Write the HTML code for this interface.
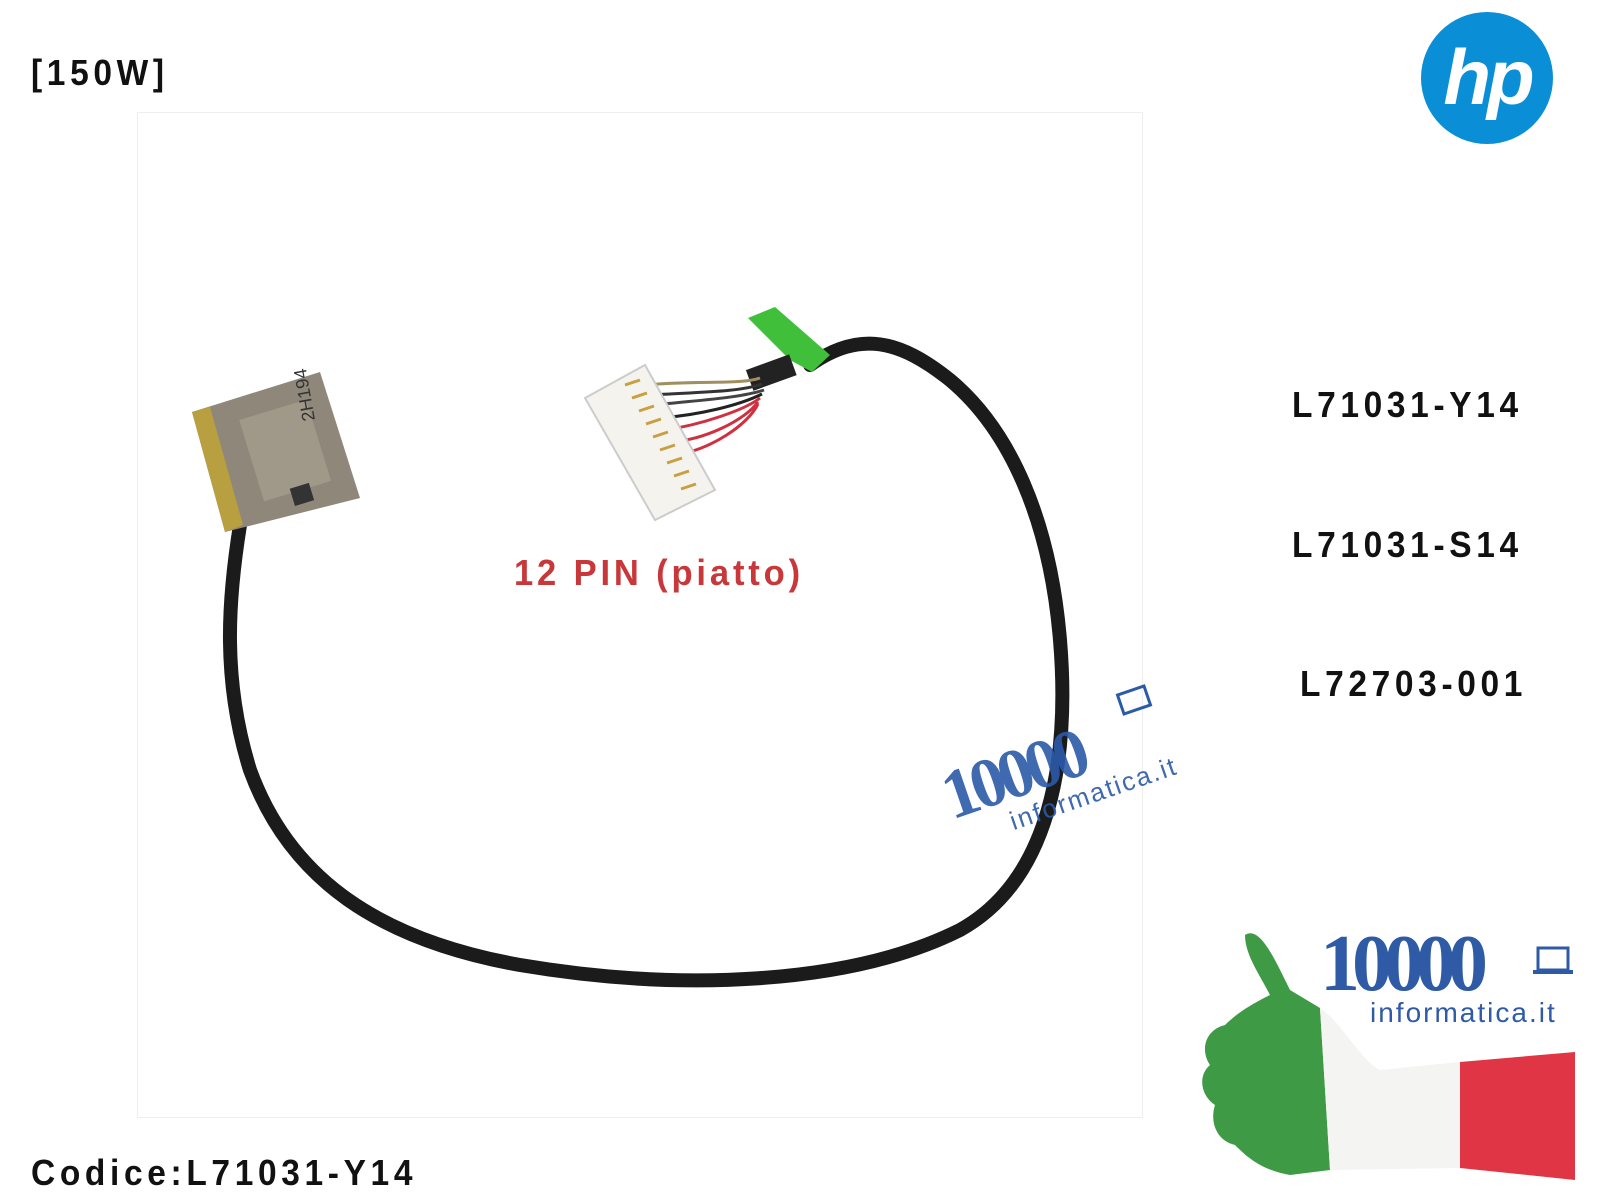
<!DOCTYPE html>
<html><head><meta charset="utf-8"><style>
html,body{margin:0;padding:0;background:#fff;width:1600px;height:1200px;overflow:hidden;position:relative;font-family:"Liberation Sans",sans-serif}
.t{position:absolute;font-size:36px;font-weight:bold;letter-spacing:5px;color:#111;transform-origin:left top;transform:scaleX(0.93);white-space:nowrap}
</style></head><body>
<div style="position:absolute;left:137px;top:112px;width:1004px;height:1004px;border:1px solid #eee"></div>
<div class="t" style="left:31px;top:52px">[150W]</div>
<div class="t" style="left:1292px;top:384px">L71031-Y14</div>
<div class="t" style="left:1292px;top:524px">L71031-S14</div>
<div class="t" style="left:1300px;top:663px">L72703-001</div>
<div class="t" style="left:31px;top:1152px">Codice:L71031-Y14</div>
<div class="t" style="left:514px;top:552px;color:#c8383a;letter-spacing:4px;transform:scaleX(0.96)">12 PIN (piatto)</div>
<svg width="1600" height="1200" style="position:absolute;left:0;top:0">
 <circle cx="1487" cy="78" r="66" fill="#0a8fd6"/>
 <text x="1487" y="104" font-family="Liberation Sans" font-style="italic" font-weight="bold" font-size="78" fill="#fff" text-anchor="middle" letter-spacing="-4">hp</text>
 <path d="M240,525 C228,600 222,680 250,770 C290,880 380,940 520,965 C680,992 850,985 960,930 C1050,880 1070,760 1060,640 C1050,520 1010,430 950,380 C900,340 860,330 810,365" fill="none" stroke="#1b1b1b" stroke-width="14" stroke-linecap="round"/>
 <polygon points="748,318 775,307 830,355 812,372 790,360" fill="#3fbf3a"/>
 <rect x="748" y="362" width="46" height="22" fill="#222" transform="rotate(-20 770 372)"/>
 <g stroke-width="3" fill="none">
  <path d="M645,385 C700,380 740,385 760,378" stroke="#a09060"/>
  <path d="M650,395 C700,392 740,392 762,384" stroke="#333"/>
  <path d="M655,405 C700,400 740,398 764,390" stroke="#444"/>
  <path d="M660,418 C700,415 740,405 762,394" stroke="#222"/>
  <path d="M665,430 C700,425 745,410 760,398" stroke="#d03040"/>
  <path d="M670,442 C705,440 745,420 758,402" stroke="#d03040"/>
  <path d="M675,455 C710,450 748,425 758,404" stroke="#d03040"/>
 </g>
 <polygon points="585,398 645,365 715,490 655,520" fill="#f5f3ee" stroke="#ccc" stroke-width="2"/>
 <g stroke="#c8a040" stroke-width="3">
  <line x1="625" y1="385" x2="640" y2="380"/><line x1="632" y1="398" x2="647" y2="393"/><line x1="639" y1="411" x2="654" y2="406"/><line x1="646" y1="424" x2="661" y2="419"/><line x1="653" y1="437" x2="668" y2="432"/><line x1="660" y1="450" x2="675" y2="445"/><line x1="667" y1="463" x2="682" y2="458"/><line x1="674" y1="476" x2="689" y2="471"/><line x1="681" y1="489" x2="696" y2="484"/>
 </g>
 <polygon points="192,412 320,372 360,498 225,532" fill="#8f877a"/>
 <polygon points="192,412 210,407 243,525 225,532" fill="#b8a040"/>
 <rect x="250" y="408" width="70" height="85" fill="#a09888" transform="rotate(-17 285 450)"/>
 <rect x="292" y="486" width="20" height="18" fill="#333" transform="rotate(-17 300 495)"/>
 <text x="315" y="420" font-size="18" fill="#333" transform="rotate(-100 315 420)" font-family="Liberation Sans">2H194</text>
 <g transform="rotate(-19 1030 740)" fill="#2b5aa8" opacity="0.9">
  <text x="930" y="790" font-family="Liberation Serif" font-weight="bold" font-size="70" letter-spacing="-6">10000</text>
  <text x="985" y="820" font-family="Liberation Sans" font-size="26" letter-spacing="2">informatica.it</text>
 </g>
 <rect x="1120" y="690" width="28" height="20" fill="none" stroke="#2b5aa8" stroke-width="3" transform="rotate(-19 1134 700)"/>
 <text x="1320" y="990" font-family="Liberation Serif" font-weight="bold" font-size="80" fill="#2f5ba6" letter-spacing="-8">10000</text>
 <rect x="1538" y="948" width="30" height="22" fill="none" stroke="#2f5ba6" stroke-width="3"/>
 <rect x="1533" y="970" width="40" height="4" fill="#2f5ba6"/>
 <text x="1370" y="1022" font-family="Liberation Sans" font-size="28" fill="#2f5ba6" letter-spacing="2">informatica.it</text>
 <path d="M1245,935 C1260,925 1275,960 1290,990 L1320,1008 L1330,1170 L1290,1175 C1260,1170 1245,1155 1235,1145 C1215,1140 1210,1120 1215,1105 C1200,1095 1198,1075 1210,1065 C1200,1050 1205,1030 1225,1025 C1240,1010 1260,1000 1270,995 C1260,975 1245,955 1245,935 Z" fill="#3f9a45"/>
 <path d="M1320,1008 C1340,1020 1360,1060 1380,1070 L1460,1062 L1460,1168 L1330,1170 Z" fill="#f4f4f2"/>
 <path d="M1460,1062 L1575,1052 L1575,1180 L1460,1168 Z" fill="#e03545"/>
</svg>
</body></html>
